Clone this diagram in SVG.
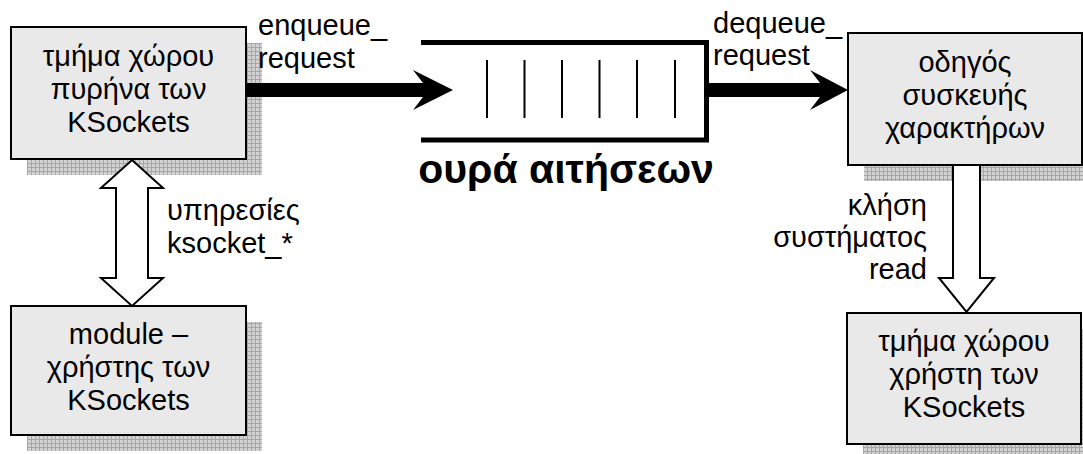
<svg xmlns="http://www.w3.org/2000/svg" width="1083" height="454" viewBox="0 0 1083 454">
  <defs>
    <!-- fine grey grid used for the drop shadows -->
    <pattern id="grid" width="4" height="4" patternUnits="userSpaceOnUse">
      <rect width="4" height="4" fill="#d2d2d2"/>
      <path d="M0,3.5 H4 M3.5,0 V4" stroke="#a6a6a6" stroke-width="1"/>
    </pattern>
  </defs>
  <style>
    .shadow { fill: url(#grid); }
    .box { fill: #e9e9e9; stroke: #000; stroke-width: 2; }
    .t { font-family: "Liberation Sans", Arial, sans-serif; font-size: 29px; fill: #000; }
    .c { text-anchor: middle; }
    .r { text-anchor: end; }
    .title { font-family: "Liberation Sans", Arial, sans-serif; font-size: 41px; font-weight: bold; text-anchor: middle; fill: #000; }
    .hollow { fill: #fff; stroke: #000; stroke-width: 2; stroke-linejoin: miter; }
    .solid { fill: #000; }
    .slot { stroke: #000; stroke-width: 2; }
  </style>

  <rect width="1083" height="454" fill="#fff"/>

  <!-- kernel-space part of KSockets -->
  <g id="kernel-part">
    <rect class="shadow" x="27" y="43" width="235" height="132"/>
    <rect class="box" x="11" y="27" width="235" height="132"/>
    <text class="t c" x="128.5" y="66">τμήμα χώρου</text>
    <text class="t c" x="128.5" y="99">πυρήνα των</text>
    <text class="t c" x="128.5" y="132">KSockets</text>
  </g>

  <!-- module using KSockets -->
  <g id="user-module">
    <rect class="shadow" x="27" y="322" width="235" height="129"/>
    <rect class="box" x="11" y="306" width="235" height="129"/>
    <text class="t c" x="128.5" y="344">module –</text>
    <text class="t c" x="128.5" y="377">χρήστης των</text>
    <text class="t c" x="128.5" y="410">KSockets</text>
  </g>

  <!-- character device driver -->
  <g id="char-driver">
    <rect class="shadow" x="864" y="49" width="234" height="132"/>
    <rect class="box" x="848" y="33" width="234" height="132"/>
    <text class="t c" x="965" y="72">οδηγός</text>
    <text class="t c" x="965" y="105">συσκευής</text>
    <text class="t c" x="965" y="138">χαρακτήρων</text>
  </g>

  <!-- user-space part of KSockets -->
  <g id="user-part">
    <rect class="shadow" x="863" y="329" width="234" height="131"/>
    <rect class="box" x="847" y="313" width="234" height="131"/>
    <text class="t c" x="964" y="351">τμήμα χώρου</text>
    <text class="t c" x="964" y="384">χρήστη των</text>
    <text class="t c" x="964" y="417">KSockets</text>
  </g>

  <!-- request queue -->
  <g id="request-queue">
    <path d="M421,42.5 H706.5 V140 H421" fill="none" stroke="#000" stroke-width="5"/>
    <line class="slot" x1="487" y1="60" x2="487" y2="118"/>
    <line class="slot" x1="524.5" y1="60" x2="524.5" y2="118"/>
    <line class="slot" x1="562" y1="60" x2="562" y2="118"/>
    <line class="slot" x1="599.5" y1="60" x2="599.5" y2="118"/>
    <line class="slot" x1="637" y1="60" x2="637" y2="118"/>
    <line class="slot" x1="675" y1="60" x2="675" y2="118"/>
    <text class="title" x="566" y="183">ουρά αιτήσεων</text>
  </g>

  <!-- connectors -->
  <g id="connectors">
    <!-- enqueue_request -->
    <polygon class="solid" points="246,83 423,83 413,70 453,90 413,110 423,97 246,97"/>
    <text class="t" x="258" y="35">enqueue_</text>
    <text class="t" x="258" y="68">request</text>

    <!-- dequeue_request -->
    <polygon class="solid" points="709,83 820,83 810,70 848,90 810,110 820,97 709,97"/>
    <text class="t" x="713" y="33">dequeue_</text>
    <text class="t" x="713" y="65">request</text>

    <!-- ksocket_* services (both ways) -->
    <polygon class="hollow" points="132,160 163,188 148,188 148,278 163,278 132,306 101,278 116,278 116,188 101,188"/>
    <text class="t" x="167" y="220">υπηρεσίες</text>
    <text class="t" x="167" y="253">ksocket_*</text>

    <!-- read system call -->
    <polygon class="hollow" points="953,165 980,165 980,278 994,278 966.5,312 939,278 953,278"/>
    <text class="t r" x="927" y="215">κλήση</text>
    <text class="t r" x="927" y="247">συστήματος</text>
    <text class="t r" x="927" y="279">read</text>
  </g>
</svg>
